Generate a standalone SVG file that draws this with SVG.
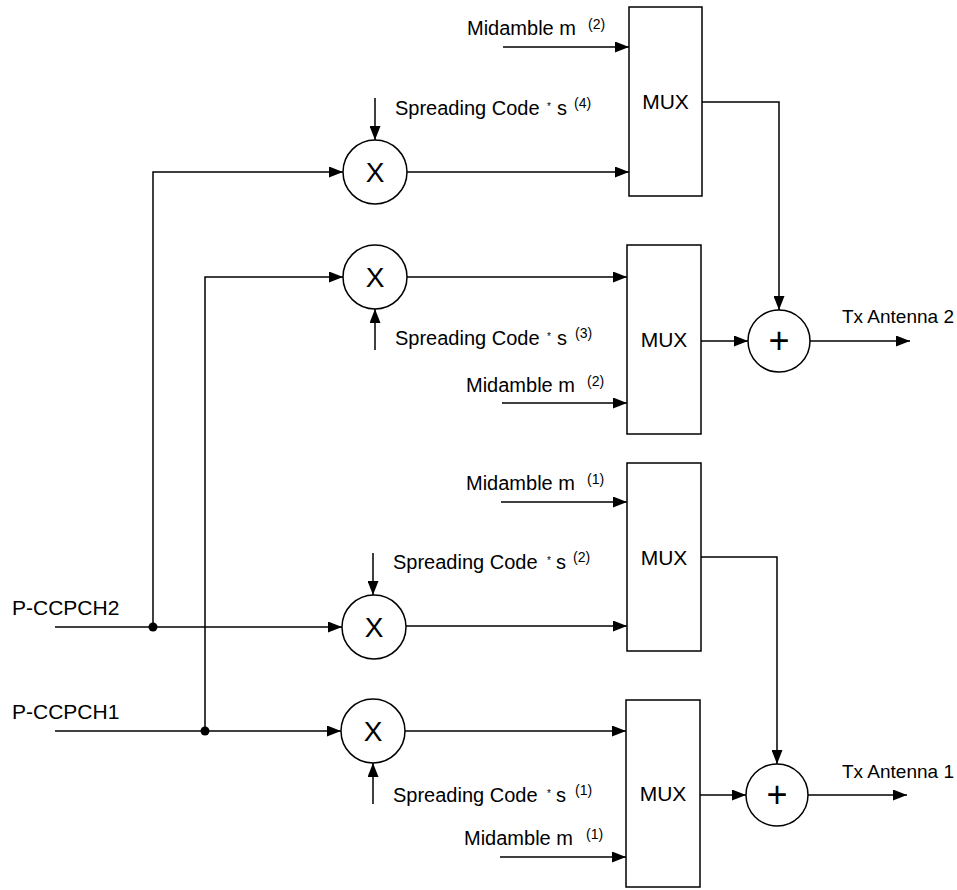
<svg xmlns="http://www.w3.org/2000/svg" width="957" height="890" viewBox="0 0 957 890">
<defs>
<marker id="ah" markerUnits="userSpaceOnUse" markerWidth="14" markerHeight="11" refX="14" refY="5.5" orient="auto">
<path d="M0,0 L14,5.5 L0,11 z" fill="#000"/>
</marker>
<style>
.ln{fill:none;stroke:#000;stroke-width:1.5}
.ar{fill:none;stroke:#000;stroke-width:1.5;marker-end:url(#ah)}
.box{fill:#fff;stroke:#000;stroke-width:1.5}
.t{font-family:"Liberation Sans",Arial,sans-serif;font-size:20px;fill:#000}
.sup{font-family:"Liberation Sans",Arial,sans-serif;font-size:14px;fill:#000}
.ast{font-family:"Liberation Sans",Arial,sans-serif;font-size:10px;fill:#000}
.mux{font-family:"Liberation Sans",Arial,sans-serif;font-size:21px;fill:#000;text-anchor:middle}
.op{font-family:"Liberation Sans",Arial,sans-serif;font-size:28px;fill:#000;text-anchor:middle}
.pl{font-family:"Liberation Sans",Arial,sans-serif;font-size:36px;fill:#000;text-anchor:middle}
</style>
</defs>
<rect width="957" height="890" fill="#fff"/>

<g id="connectors">
<path class="ar" d="M55,627 H342"/>
<path class="ar" d="M153,627 V172 H343"/>
<path class="ar" d="M55,731 H341"/>
<path class="ar" d="M205,731 V277 H343"/>
<path class="ar" d="M407,172 H629"/>
<path class="ar" d="M407,277 H627"/>
<path class="ar" d="M406,626 H627"/>
<path class="ar" d="M405,731 H626"/>
<path class="ar" d="M375,98 V140"/>
<path class="ar" d="M375,350 V309"/>
<path class="ar" d="M373,553 V595"/>
<path class="ar" d="M373,804 V763"/>
<path class="ar" d="M503,47 H629"/>
<path class="ar" d="M502,403 H627"/>
<path class="ar" d="M501,502 H627"/>
<path class="ar" d="M500,857 H626"/>
<path class="ar" d="M702,102 H779 V310"/>
<path class="ar" d="M701,341 H748"/>
<path class="ar" d="M810,341 H910"/>
<path class="ar" d="M701,557 H777 V764"/>
<path class="ar" d="M700,795 H746"/>
<path class="ar" d="M808,795 H907"/>
<circle cx="153" cy="627" r="4.5" fill="#000"/>
<circle cx="205" cy="731" r="4.5" fill="#000"/>
</g>

<g id="in2"><text class="t" x="12" y="615" style="font-size:21px">P-CCPCH2</text></g>
<g id="in1"><text class="t" x="12" y="719" style="font-size:21px">P-CCPCH1</text></g>

<g id="x1"><circle class="box" cx="375" cy="172" r="32"/><text class="op" x="375" y="182">X</text></g>
<g id="x2"><circle class="box" cx="375" cy="277" r="32"/><text class="op" x="375" y="287">X</text></g>
<g id="x3"><circle class="box" cx="374" cy="627" r="32"/><text class="op" x="374" y="637">X</text></g>
<g id="x4"><circle class="box" cx="373" cy="731" r="32"/><text class="op" x="373" y="741">X</text></g>

<g id="mux1"><rect class="box" x="629" y="7" width="73" height="189"/><text class="mux" x="665.5" y="109">MUX</text></g>
<g id="mux2"><rect class="box" x="627" y="245" width="74" height="189"/><text class="mux" x="664" y="347">MUX</text></g>
<g id="mux3"><rect class="box" x="627" y="463" width="74" height="188"/><text class="mux" x="664" y="564.5">MUX</text></g>
<g id="mux4"><rect class="box" x="626" y="700" width="74" height="187"/><text class="mux" x="663" y="801">MUX</text></g>

<g id="sum2"><circle class="box" cx="779" cy="341" r="31"/><text class="pl" x="779" y="353">+</text></g>
<g id="sum1"><circle class="box" cx="777" cy="795" r="31"/><text class="pl" x="777" y="807">+</text></g>

<g id="out2"><text class="t" x="842" y="323" style="font-size:19px">Tx Antenna 2</text></g>
<g id="out1"><text class="t" x="842" y="778" style="font-size:19px">Tx Antenna 1</text></g>

<g id="mid2a"><text class="t" x="467" y="35">Midamble m</text><text class="sup" x="588" y="29">(2)</text></g>
<g id="mid2b"><text class="t" x="466" y="392">Midamble m</text><text class="sup" x="587" y="386">(2)</text></g>
<g id="mid1a"><text class="t" x="466" y="490">Midamble m</text><text class="sup" x="587" y="484">(1)</text></g>
<g id="mid1b"><text class="t" x="464" y="845">Midamble m</text><text class="sup" x="586" y="839">(1)</text></g>

<g id="sc4"><text class="t" x="395" y="115">Spreading Code</text><text class="ast" x="547" y="110">*</text><text class="t" x="557" y="115">s</text><text class="sup" x="574" y="108">(4)</text></g>
<g id="sc3"><text class="t" x="395" y="345">Spreading Code</text><text class="ast" x="547" y="340">*</text><text class="t" x="557" y="345">s</text><text class="sup" x="575" y="338">(3)</text></g>
<g id="sc2"><text class="t" x="393" y="569">Spreading Code</text><text class="ast" x="547" y="564">*</text><text class="t" x="556" y="569">s</text><text class="sup" x="573" y="562">(2)</text></g>
<g id="sc1"><text class="t" x="393" y="802">Spreading Code</text><text class="ast" x="547" y="797">*</text><text class="t" x="556" y="802">s</text><text class="sup" x="575" y="795">(1)</text></g>
</svg>
